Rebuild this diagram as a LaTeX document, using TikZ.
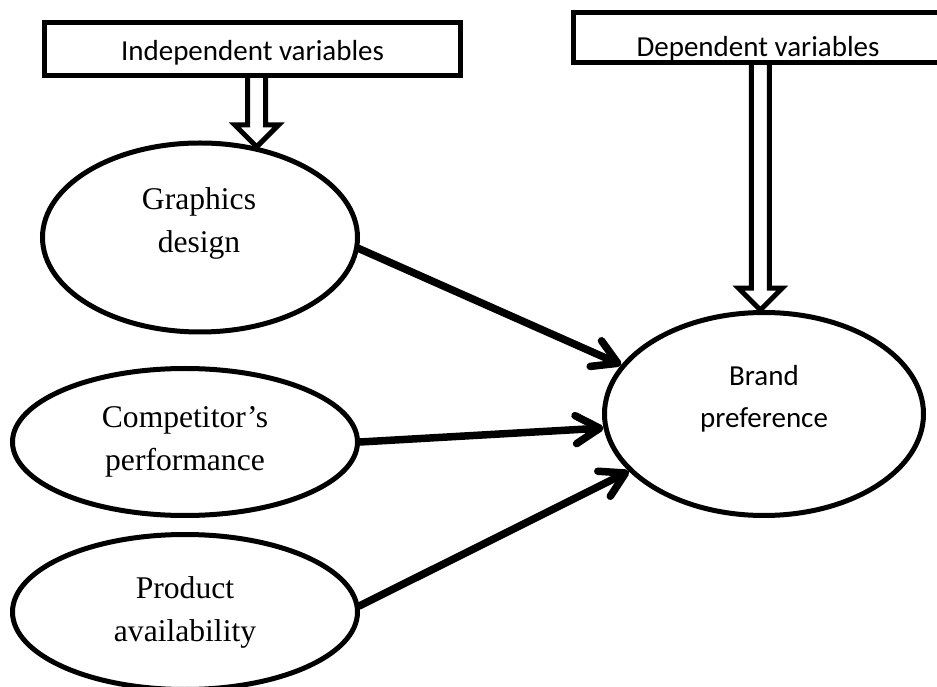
\documentclass[tikz,border=0pt]{standalone}
\usepackage{fontspec}
\setmainfont{Liberation Serif}
\newfontfamily\calibri{Carlito}
\usetikzlibrary{calc,shapes.geometric,arrows.meta}

\newcommand{\hollowdown}[2]{%
    \draw [hollow] ($(#1)+(-9,0)$) -- ($(#2)+(-9,22)$) -- ($(#2)+(-22,22)$) -- (#2)
        -- ($(#2)+(22,22)$) -- ($(#2)+(9,22)$) -- ($(#1)+(9,0)$);
}

\begin{document}
\begin{tikzpicture}[x=0.5pt,y=0.5pt,
    varbox/.style={draw, line width=2.5pt, inner sep=0pt, text depth=0pt, font=\calibri\fontsize{14.5}{21}\selectfont},
    oval/.style={draw, ellipse, line width=2.5pt, inner sep=0pt},
    ovaltext/.style={align=center, font=\fontsize{15.8}{21.5}\selectfont},
    sanstext/.style={align=center, font=\calibri\fontsize{14.5}{21}\selectfont},
    hollow/.style={line width=2.5pt},
    link/.style={line width=3.75pt, line cap=round, -{Straight Barb[length=12pt,width=14pt,round]}}]
    \useasboundingbox (0,0) rectangle (937,686);

    \node [varbox, minimum width=208pt, minimum height=26.5pt, text height=12pt] (indep) at (252.5,637) {Independent variables};
    \node [varbox, minimum width=184.5pt, minimum height=25pt, text height=19.5pt] (dep) at (758,648.5) {Dependent variables};

    \node [oval, minimum width=157.5pt, minimum height=94.5pt] (graph) at (200,448.5) {};
    \node [oval, minimum width=172.5pt, minimum height=73.5pt] (comp) at (185,244) {};
    \node [oval, minimum width=172.5pt, minimum height=77.5pt] (prod) at (185,74) {};
    \node [oval, minimum width=159.5pt, minimum height=101.5pt] (brand) at (764,272) {};

    \node [ovaltext] (graphlbl) at ($(graph)+(-1,14.5)$) {Graphics\\design};
    \node [ovaltext] (complbl) at (comp) {Competitor’s\\performance};
    \node [ovaltext] (prodlbl) at (prod) {Product\\availability};
    \node [sanstext] (brandlbl) at ($(brand)+(0,15)$) {Brand\\preference};

    \coordinate (indtip) at (graph.58);
    \coordinate (indtop) at (indep.south -| indtip);
    \coordinate (deptip) at (brand.92);
    \coordinate (deptop) at (dep.south -| deptip);
    \hollowdown{indtop}{indtip}
    \hollowdown{deptop}{deptip}

    \draw [link] (graph.-4) -- (brand.161);
    \draw [link] (comp.east) -- (brand.185);
    \draw [link] (prod.2) -- (brand.203);
\end{tikzpicture}
\end{document}
